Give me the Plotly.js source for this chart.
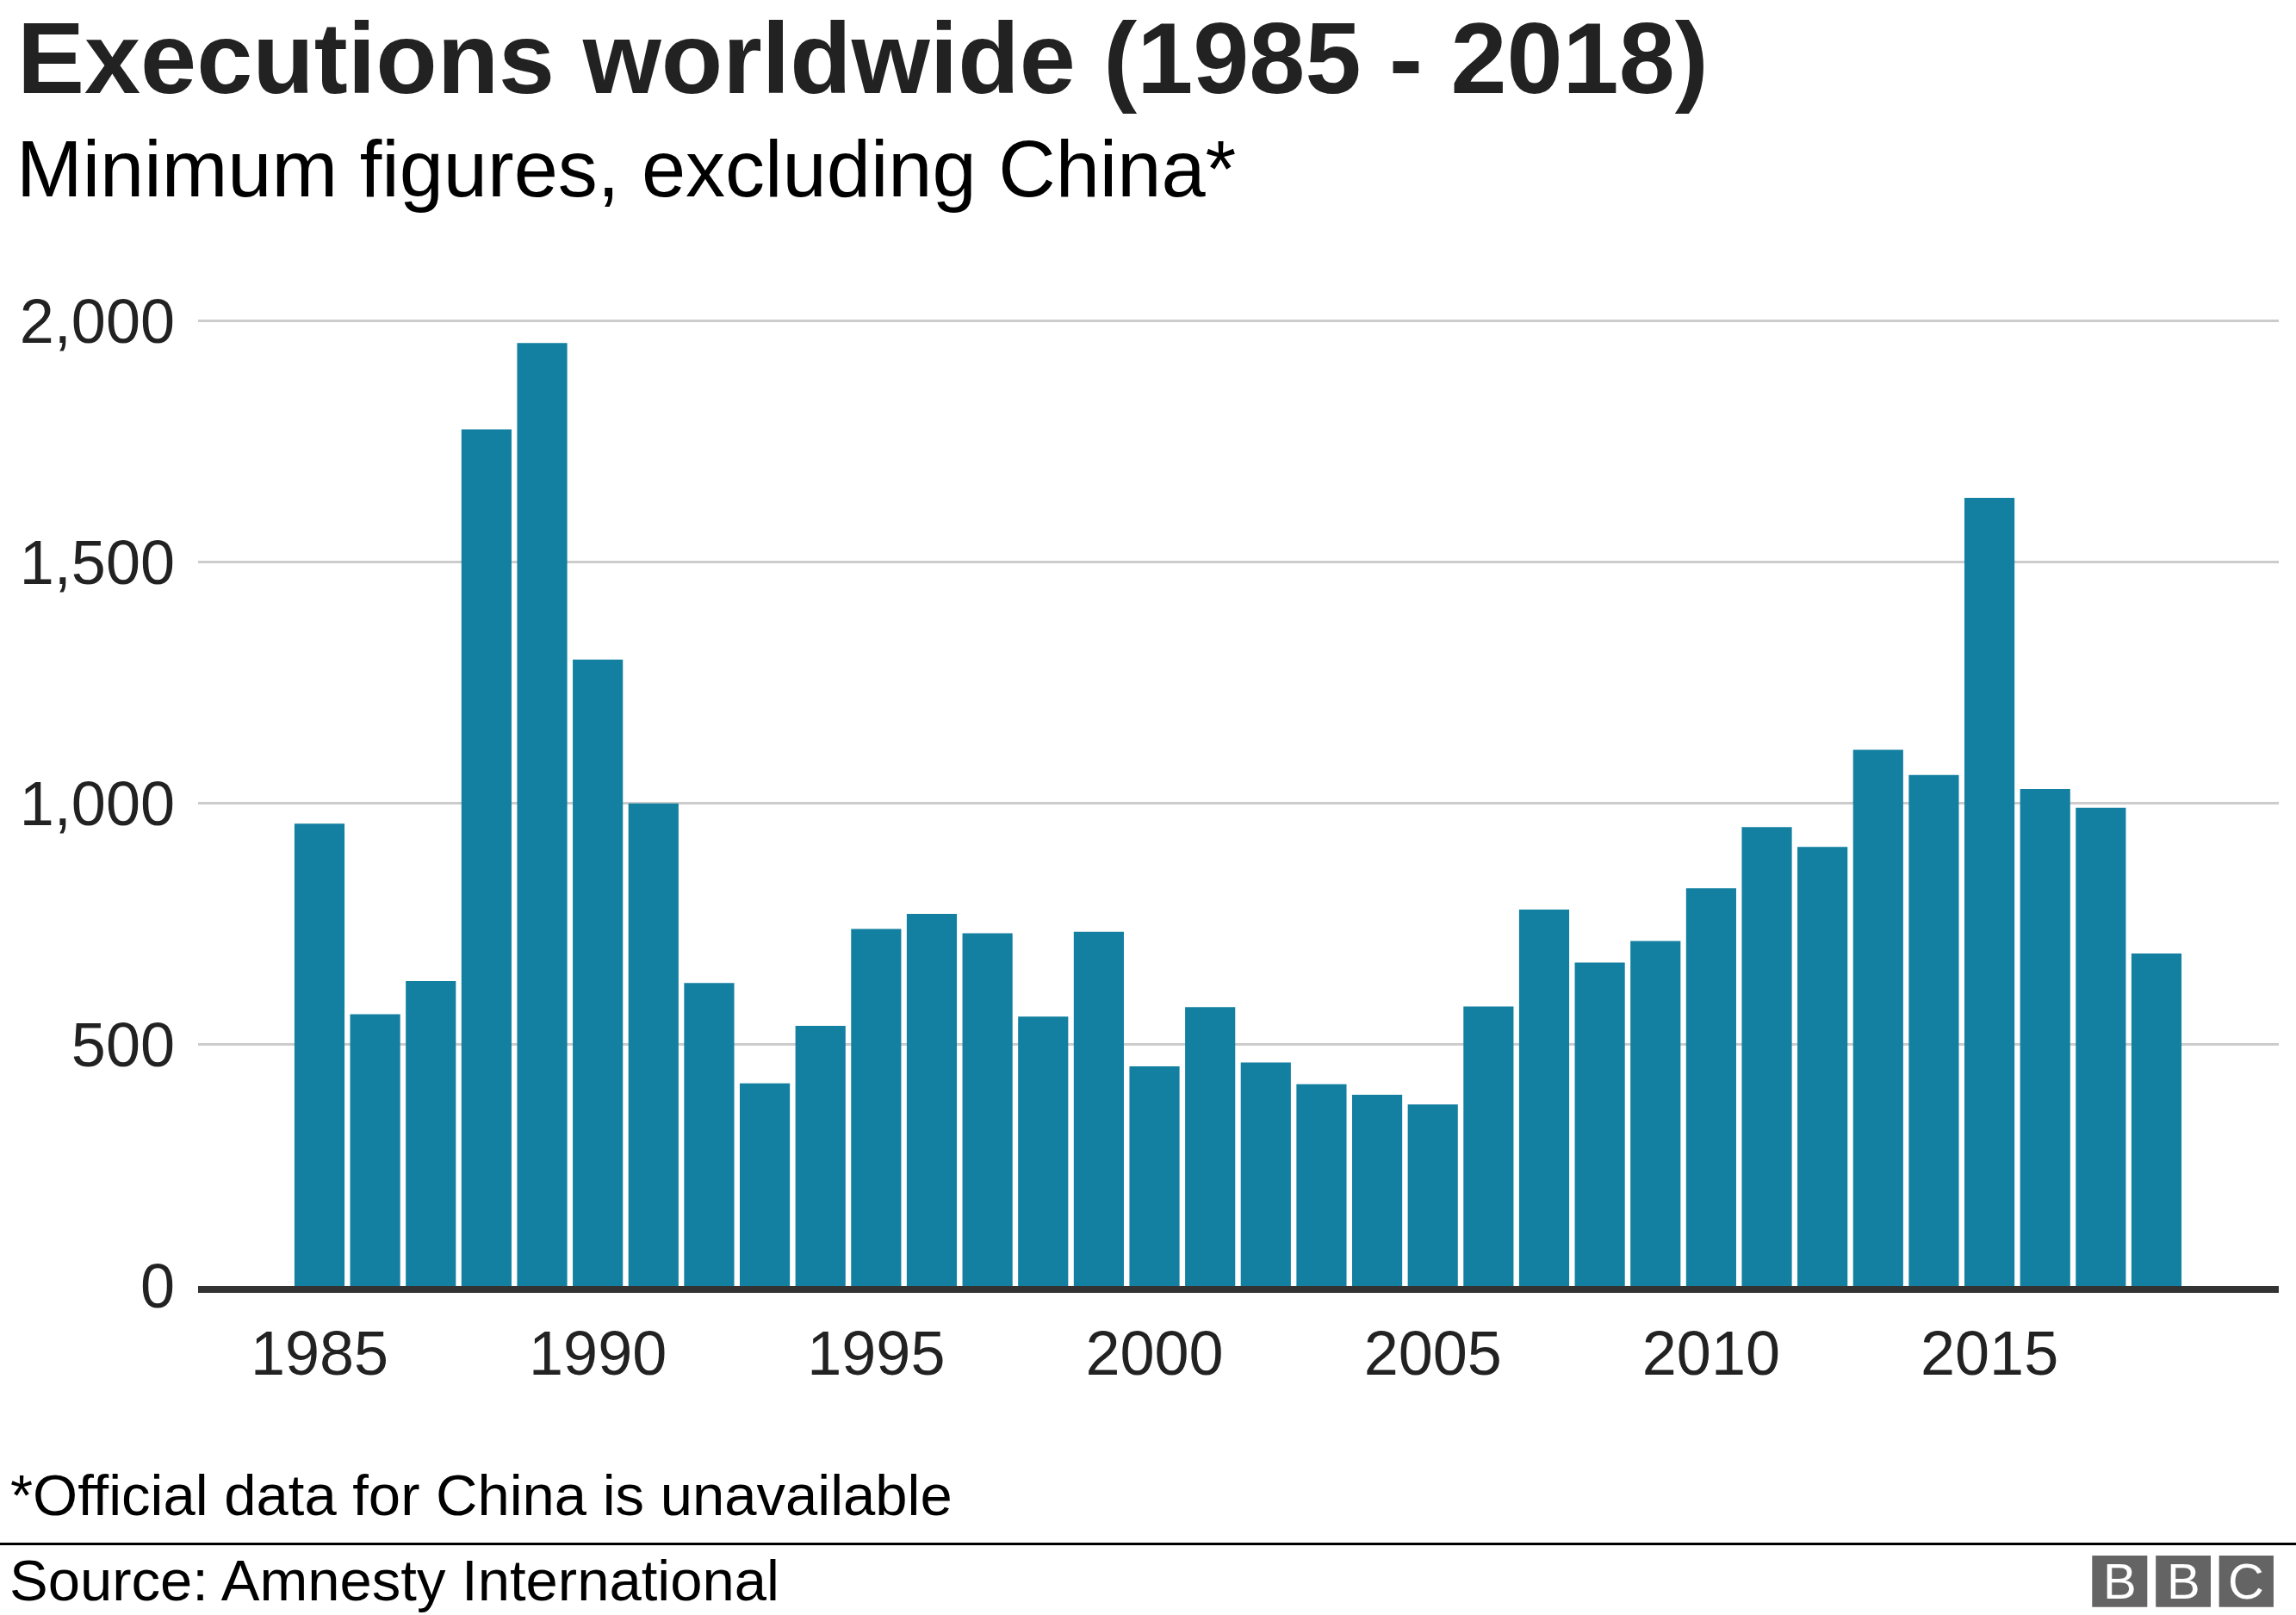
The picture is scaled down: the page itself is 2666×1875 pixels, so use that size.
<!DOCTYPE html>
<html>
<head>
<meta charset="utf-8">
<script src="https://cdn.plot.ly/plotly-3.0.1.min.js"></script>
<style>
  html, body { margin: 0; padding: 0; background: #ffffff; }
  #chart { width: 2666px; height: 1875px; }
</style>
</head>
<body>
<div id="chart"></div>
<script>
// ---- Data ----
const years = [1985, 1986, 1987, 1988, 1989, 1990, 1991, 1992, 1993, 1994,
               1995, 1996, 1997, 1998, 1999, 2000, 2001, 2002, 2003, 2004,
               2005, 2006, 2007, 2008, 2009, 2010, 2011, 2012, 2013, 2014,
               2015, 2016, 2017, 2018];
const executions = [958, 563, 632, 1775, 1954, 1298, 1000, 628, 420, 539,
                    740, 771, 731, 558, 734, 455, 578, 463, 418, 396,
                    376, 579, 780, 670, 715, 824, 951, 910, 1111, 1059,
                    1633, 1030, 991, 689];
const xTickVals = [1985, 1990, 1995, 2000, 2005, 2010, 2015];
const xTickText = ['1985', '1990', '1995', '2000', '2005', '2010', '2015'];
const yTickVals = [0, 500, 1000, 1500, 2000];
const yTickText = ['0', '500', '1,000', '1,500', '2,000'];

const titleText = 'Executions worldwide (1985 - 2018)';
const subtitleText = 'Minimum figures, excluding China*';
const footnoteText = '*Official data for China is unavailable';
const sourceText = 'Source: Amnesty International';

// ---- Styling ----
const FONT = 'Liberation Sans, Arial, Helvetica, sans-serif';
const BAR = '#1380A1';
const TEXT = '#222222';
const LOGO = '#646464';

const trace = {
  type: 'bar',
  x: years,
  y: executions,
  marker: { color: BAR, line: { width: 0 } },
  hoverinfo: 'skip'
};

const logoBoxes = [[0.9103, 0.9368], [0.9409, 0.9673], [0.9713, 0.9975]];
const logoLetters = ['B', 'B', 'C'];

const shapes = [
  { type: 'line', xref: 'paper', yref: 'paper', x0: -0.1, x1: 1.01, y0: -0.262, y1: -0.262,
    line: { color: '#000000', width: 3 } }
];
logoBoxes.forEach(b => shapes.push({
  type: 'rect', xref: 'paper', yref: 'paper', x0: b[0], x1: b[1], y0: -0.3261, y1: -0.2738,
  fillcolor: LOGO, line: { width: 0 }
}));

const annotations = [
  { text: subtitleText, xref: 'paper', yref: 'paper', x: -0.0882, y: 1.1809,
    xanchor: 'left', yanchor: 'top', showarrow: false, align: 'left',
    font: { family: FONT, size: 92, color: '#000000' } },
  { text: footnoteText, xref: 'paper', yref: 'paper', x: -0.0911, y: -0.1775,
    xanchor: 'left', yanchor: 'top', showarrow: false, align: 'left',
    font: { family: FONT, size: 67, color: '#000000' } },
  { text: sourceText, xref: 'paper', yref: 'paper', x: -0.0915, y: -0.2645,
    xanchor: 'left', yanchor: 'top', showarrow: false, align: 'left',
    font: { family: FONT, size: 67, color: '#000000' } }
];
logoBoxes.forEach((b, i) => annotations.push({
  text: logoLetters[i], xref: 'paper', yref: 'paper', x: (b[0] + b[1]) / 2, y: -0.3,
  xanchor: 'center', yanchor: 'middle', showarrow: false,
  font: { family: FONT, size: 58, color: '#ffffff' }
}));

const layout = {
  width: 2666,
  height: 1875,
  paper_bgcolor: '#ffffff',
  plot_bgcolor: '#ffffff',
  margin: { l: 230, r: 20, t: 350, b: 382, pad: 0 },
  showlegend: false,
  bargap: 0.1,
  font: { family: FONT, color: TEXT },
  title: {
    text: titleText,
    xref: 'container', yref: 'container',
    x: 0.0075, xanchor: 'left',
    y: 1 - 26 / 1875, yanchor: 'top',
    font: { family: FONT, size: 117, color: TEXT, weight: 'bold' }
  },
  xaxis: {
    range: [1982.819, 2020.197],
    tickmode: 'array',
    tickvals: xTickVals,
    ticktext: xTickText,
    showgrid: false,
    zeroline: false,
    showline: true,
    linecolor: '#333333',
    linewidth: 8,
    ticks: '',
    ticklabelstandoff: 9,
    tickfont: { family: FONT, size: 72, color: TEXT },
    fixedrange: true
  },
  yaxis: {
    range: [0, 2040],
    tickmode: 'array',
    tickvals: yTickVals,
    ticktext: yTickText,
    showgrid: true,
    gridcolor: '#cccccc',
    gridwidth: 3,
    zeroline: false,
    showline: false,
    ticks: '',
    ticklabelstandoff: 26,
    tickfont: { family: FONT, size: 72, color: TEXT },
    fixedrange: true
  },
  shapes: shapes,
  annotations: annotations
};

Plotly.newPlot('chart', [trace], layout, { displayModeBar: false, staticPlot: true });
</script>
</body>
</html>
